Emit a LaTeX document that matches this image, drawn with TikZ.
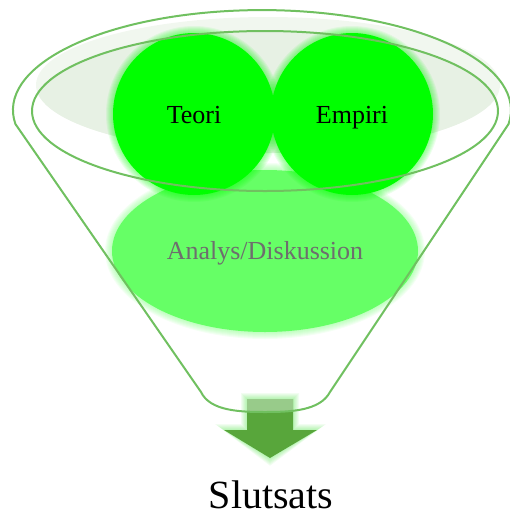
\documentclass[tikz,border=0pt]{standalone}
\usepackage{fontspec}
\setmainfont{Liberation Serif}
\definecolor{funnelline}{HTML}{70C060}
\definecolor{bowlA}{HTML}{F1F7EF}
\definecolor{bowlB}{HTML}{E7F1E4}
\definecolor{ballgreen}{HTML}{00FF00}
\definecolor{anagreen}{HTML}{66FF66}
\definecolor{anatext}{HTML}{6E6E6E}
\definecolor{arrowdark}{HTML}{58A63B}
\definecolor{arrowlight}{HTML}{98CB8A}
\tikzset{
  funnelstroke/.style={draw=funnelline,line width=2pt,line join=round},
  lbl/.style={inner sep=0pt,anchor=base,font=\fontsize{26}{30}\selectfont},
}
\begin{document}
\begin{tikzpicture}[x=1pt,y=-1pt]
\useasboundingbox (0,0) rectangle (510,520);
% bowl shading
\fill[bowlA] (268,85) ellipse [x radius=232, y radius=68];
\begin{scope}
  \clip (265,111) ellipse [x radius=233, y radius=80];
  \fill[bowlB] (268,85) ellipse [x radius=232, y radius=68];
\end{scope}
% analysis ellipse with glow
\foreach \i in {1,...,7}
  \fill[anagreen,opacity=0.07] (265,251) ellipse [x radius=153+\i, y radius=81+\i];
\fill[anagreen] (265,251) ellipse [x radius=153, y radius=81];
% balls with glow
\foreach \cx in {194,352}{
  \foreach \i in {1,...,7}
    \fill[ballgreen,opacity=0.07] (\cx,114) circle [radius=81+\i];
  \fill[ballgreen] (\cx,114) circle [radius=81];
}
% arrow
\foreach \i in {1,...,6}
  \fill[ballgreen!60!arrowdark,opacity=0.06,line join=round]
    (247-\i,399-\i) -- (293+\i,399-\i) -- (293+\i,430-\i) -- (317+\i*1.5,430-\i) -- (270,458+\i*1.3) -- (224-\i*1.5,430-\i) -- (247-\i,430-\i) -- cycle;
\fill[arrowdark] (247,399) -- (293,399) -- (293,430) -- (317,430) -- (270,458) -- (224,430) -- (247,430) -- cycle;
\begin{scope}
  \clip (15.4,124) arc [start angle=172, end angle=368, x radius=249, y radius=100]
    -- (330,392) .. controls (320,411) and (290,412) .. (265,412) .. controls (240,412) and (210,411) .. (201,392) -- cycle;
  \fill[arrowlight] (247,399) rectangle (293,430);
\end{scope}
% rim and funnel outlines
\draw[funnelstroke] (265,111) ellipse [x radius=233, y radius=80];
\draw[funnelstroke] (15.4,124) arc [start angle=172, end angle=368, x radius=249, y radius=100]
    -- (330,392) .. controls (320,411) and (290,412) .. (265,412) .. controls (240,412) and (210,411) .. (201,392) -- cycle;
% labels
\node[lbl] (teori) at (194,123) {Teori};
\node[lbl] (empiri) at (352,123) {Empiri};
\node[lbl,text=anatext] (analys) at (265,259) {Analys/Diskussion};
\node[inner sep=0pt,anchor=base,font=\fontsize{40}{46}\selectfont] (slutsats) at (271,508) {Slutsats};
\end{tikzpicture}
\end{document}
